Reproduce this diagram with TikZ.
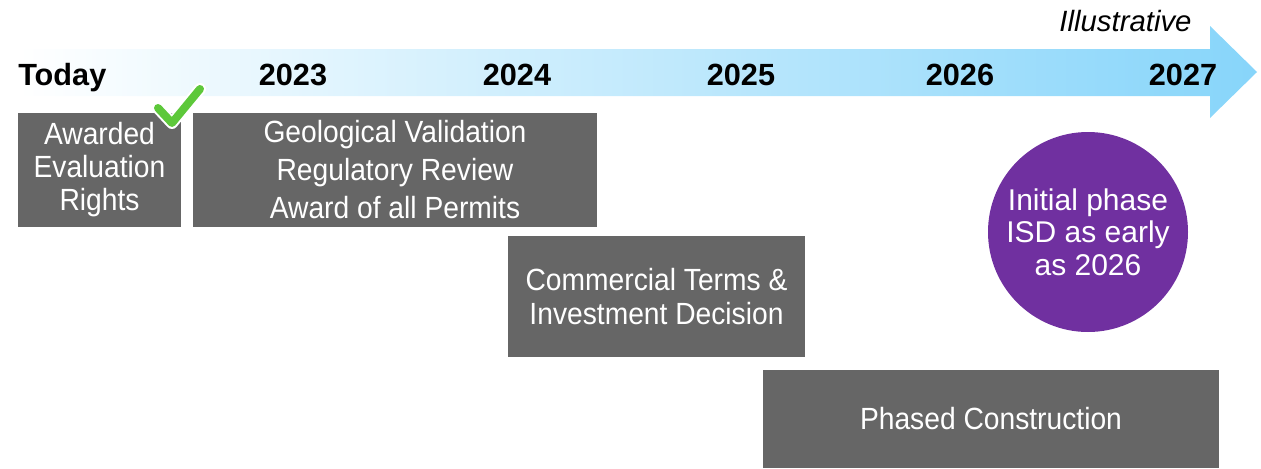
\documentclass[tikz,border=0pt]{standalone}
\usepackage{fontspec}
\setmainfont{Liberation Sans}
\newfontfamily\condfont[FakeStretch=0.92]{Liberation Sans}
\definecolor{arrowblue}{HTML}{87D5FA}
\definecolor{boxgray}{HTML}{666666}
\definecolor{circpurple}{HTML}{7030A0}
\definecolor{checkgreen}{HTML}{5DC83A}
\begin{document}
\begin{tikzpicture}[x=0.75pt,y=-0.75pt,
  gbox/.style={fill=boxgray, draw=none, inner sep=0pt, text=white, align=center,
    font=\condfont\fontsize{23}{24.75}\selectfont},
  yearlbl/.style={anchor=base, inner sep=0pt, font=\bfseries\fontsize{23}{26}\selectfont, text=black},
  circlbl/.style={circle, fill=circpurple, text=white, align=center, inner sep=0pt,
    minimum size=150pt, font=\fontsize{22.5}{24.4}\selectfont},
  checkmk/.style={draw=checkgreen, line width=6pt, line cap=round, line join=round}]
\useasboundingbox (0,0) rectangle (1261,468);
% timeline arrow
\shade[left color=white, right color=arrowblue, draw=none]
  (18,49) -- (1210,49) -- (1210,26) -- (1257,72) -- (1210,118) -- (1210,96) -- (18,96) -- cycle;
% labels on arrow
\node[yearlbl, anchor=base west] (today) at (18,85) {Today};
\node[yearlbl] (y2023) at (293,85) {2023};
\node[yearlbl] (y2024) at (517,85) {2024};
\node[yearlbl] (y2025) at (741,85) {2025};
\node[yearlbl] (y2026) at (960,85) {2026};
\node[yearlbl] (y2027) at (1183,85) {2027};
\node[anchor=base, inner sep=0pt, font=\itshape\fontsize{22}{24}\selectfont] (illus) at (1125.5,31) {Illustrative};
% boxes
\node[gbox, minimum width=122.25pt, minimum height=85.5pt] (awarded) at (99.5,170)
  {Awarded\\Evaluation\\Rights};
\node[gbox, minimum width=303pt, minimum height=85.5pt,
  font=\condfont\fontsize{23}{28.5}\selectfont] (geo) at (395,170)
  {Geological Validation\\Regulatory Review\\Award of all Permits};
\node[gbox, minimum width=222.75pt, minimum height=90.75pt,
  font=\condfont\fontsize{23}{25.5}\selectfont] (commercial) at (656.5,296.5)
  {Commercial Terms \&\\Investment Decision};
\node[gbox, minimum width=342pt, minimum height=73.5pt] (phased) at (991,419)
  {Phased Construction};
% circle
\node[circlbl] (isd) at (1088,232) {Initial phase\\ISD as early\\as 2026};
% check mark
\draw[draw=white, line width=9pt, line cap=round, line join=round] (158,108) -- (172,123) -- (200,89);
\draw[checkmk] (158,108) -- (172,123) -- (200,89);
\end{tikzpicture}
\end{document}
